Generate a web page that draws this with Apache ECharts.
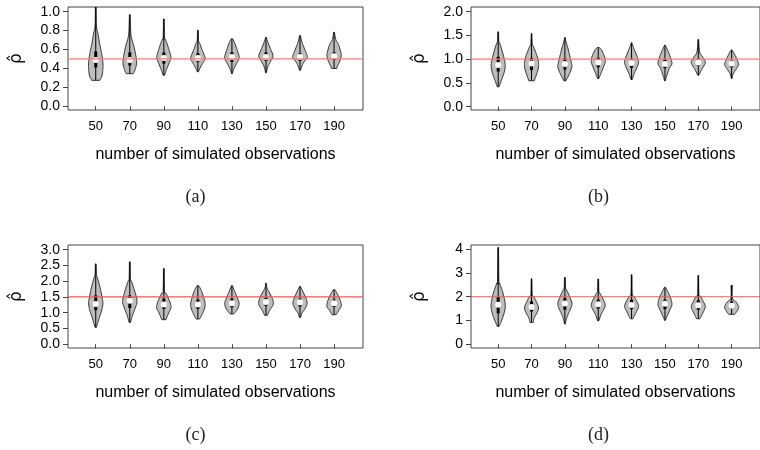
<!DOCTYPE html>
<html>
<head>
<meta charset="UTF-8">
<title>violin plots</title>
<script src="https://cdn.jsdelivr.net/npm/echarts@6/dist/echarts.min.js"></script>
<style>html,body{margin:0;background:#fff;}</style>
</head>
<body>
<div id="main" style="width:760px;height:450px;"></div>
<script type="text/javascript">
// categories (number of simulated observations)
var xCats = [50, 70, 90, 110, 130, 150, 170, 190];

// y tick labels per panel
var yTicksA = [0, 0.2, 0.4, 0.6, 0.8, 1.0];
var yTicksB = [0, 0.5, 1.0, 1.5, 2.0];
var yTicksC = [0, 0.5, 1.0, 1.5, 2.0, 2.5, 3.0];
var yTicksD = [0, 1, 2, 3, 4];

// true value (red line) per panel
var trueA = 0.5, trueB = 1.0, trueC = 1.5, trueD = 2.0;

// violin outlines: [value, relative half width], top to bottom
var violinA = [
  [[1.05,0.05],[0.846,0.1],[0.776,0.29],[0.671,0.52],[0.565,0.81],[0.46,1],[0.39,1],[0.32,0.86],[0.274,0.57]],
  [[0.969,0.05],[0.846,0.1],[0.741,0.19],[0.635,0.57],[0.53,0.86],[0.46,0.95],[0.39,0.76],[0.344,0.48]],
  [[0.923,0.05],[0.723,0.1],[0.706,0.24],[0.635,0.57],[0.565,0.86],[0.513,1],[0.46,0.76],[0.39,0.38],[0.327,0.1]],
  [[0.804,0.05],[0.688,0.1],[0.671,0.24],[0.6,0.57],[0.53,0.95],[0.495,1],[0.46,0.71],[0.407,0.33],[0.365,0.1]],
  [[0.713,0.1],[0.671,0.38],[0.6,0.71],[0.53,1],[0.495,0.95],[0.442,0.57],[0.39,0.24],[0.344,0.05]],
  [[0.73,0.05],[0.671,0.29],[0.6,0.67],[0.53,1],[0.478,0.67],[0.425,0.29],[0.355,0.05]],
  [[0.748,0.05],[0.688,0.24],[0.618,0.57],[0.548,0.95],[0.513,1],[0.46,0.48],[0.407,0.19],[0.379,0.05]],
  [[0.783,0.05],[0.706,0.24],[0.653,0.62],[0.583,0.9],[0.537,1],[0.478,0.81],[0.425,0.48],[0.40,0.38]]
];
var violinB = [
  [[1.577,0.05],[1.366,0.1],[1.331,0.24],[1.12,0.67],[0.945,0.95],[0.84,1],[0.699,0.81],[0.524,0.38],[0.419,0.14]],
  [[1.541,0.05],[1.331,0.1],[1.261,0.29],[1.12,0.67],[0.98,0.95],[0.84,1],[0.699,0.76],[0.545,0.38]],
  [[1.457,0.05],[1.401,0.1],[1.261,0.38],[1.12,0.62],[0.945,0.9],[0.84,1],[0.699,0.67],[0.545,0.14]],
  [[1.247,0.14],[1.191,0.48],[1.05,0.9],[0.945,1],[0.84,0.76],[0.699,0.38],[0.594,0.1]],
  [[1.345,0.05],[1.226,0.33],[1.085,0.71],[0.945,1],[0.84,0.81],[0.699,0.38],[0.573,0.1]],
  [[1.296,0.05],[1.191,0.38],[1.05,0.76],[0.91,1],[0.805,0.62],[0.664,0.29],[0.545,0.05]],
  [[1.415,0.05],[1.155,0.19],[1.05,0.62],[0.945,1],[0.875,0.86],[0.769,0.43],[0.664,0.1]],
  [[1.191,0.1],[1.085,0.48],[0.98,0.81],[0.889,1],[0.805,0.71],[0.699,0.24],[0.594,0.05]]
];
var violinC = [
  [[2.55,0.05],[2.211,0.1],[2.105,0.24],[1.786,0.62],[1.468,0.9],[1.309,1],[1.097,0.86],[0.832,0.48],[0.535,0.1]],
  [[2.614,0.05],[2.051,0.1],[1.998,0.24],[1.733,0.62],[1.468,0.95],[1.309,1],[1.15,0.76],[0.885,0.33],[0.694,0.1]],
  [[2.401,0.05],[1.68,0.1],[1.627,0.29],[1.468,0.62],[1.309,0.9],[1.15,1],[0.991,0.67],[0.779,0.29]],
  [[1.861,0.1],[1.733,0.43],[1.521,0.76],[1.309,1],[1.15,0.95],[0.938,0.57],[0.8,0.24]],
  [[1.861,0.05],[1.68,0.38],[1.468,0.76],[1.309,1],[1.15,0.86],[0.991,0.38],[0.959,0.19]],
  [[1.935,0.05],[1.786,0.14],[1.627,0.52],[1.415,0.95],[1.256,1],[1.097,0.57],[0.917,0.19]],
  [[1.839,0.05],[1.659,0.43],[1.468,0.81],[1.309,1],[1.15,0.76],[0.991,0.29],[0.853,0.1]],
  [[1.733,0.1],[1.574,0.52],[1.362,0.9],[1.203,1],[1.065,0.62],[0.938,0.29]]
];
var violinD = [
  [[4.076,0.05],[2.645,0.1],[2.575,0.19],[2.224,0.62],[1.803,0.95],[1.522,1],[1.171,0.71],[0.89,0.33],[0.75,0.14]],
  [[2.757,0.05],[2.083,0.1],[2.013,0.29],[1.803,0.67],[1.522,1],[1.311,0.76],[1.101,0.38],[0.918,0.24]],
  [[2.813,0.05],[2.364,0.1],[2.294,0.24],[2.013,0.67],[1.733,1],[1.522,0.86],[1.241,0.43],[1.031,0.19],[0.848,0.05]],
  [[2.743,0.05],[2.224,0.1],[2.154,0.24],[1.943,0.62],[1.662,1],[1.452,0.76],[1.241,0.38],[0.989,0.1]],
  [[2.925,0.05],[2.083,0.1],[2.013,0.33],[1.803,0.76],[1.592,1],[1.382,0.71],[1.129,0.29],[1.073,0.19]],
  [[2.392,0.1],[2.224,0.38],[1.943,0.81],[1.662,1],[1.452,0.71],[1.171,0.29],[1.003,0.05]],
  [[2.897,0.05],[2.083,0.1],[2.013,0.33],[1.803,0.71],[1.592,1],[1.382,0.76],[1.129,0.33],[1.073,0.24]],
  [[2.476,0.1],[1.943,0.1],[1.803,0.57],[1.634,0.95],[1.522,1],[1.353,0.67],[1.26,0.43]]
];

// inner box: [q1, median, q3]
var boxA = [[0.41,0.49,0.58],[0.43,0.49,0.57],[0.45,0.51,0.57],[0.47,0.51,0.56],[0.47,0.52,0.57],[0.48,0.52,0.57],[0.48,0.52,0.56],[0.49,0.53,0.57]];
var boxB = [[0.74,0.88,1.05],[0.77,0.91,1.03],[0.78,0.90,1.02],[0.83,0.93,1.03],[0.82,0.92,1.01],[0.81,0.90,1.00],[0.86,0.93,1.01],[0.83,0.91,0.98]];
var boxC = [[1.08,1.28,1.55],[1.15,1.38,1.55],[1.12,1.26,1.45],[1.12,1.26,1.42],[1.17,1.30,1.45],[1.22,1.34,1.47],[1.20,1.33,1.45],[1.18,1.30,1.42]];
var boxD = [[1.30,1.66,1.98],[1.38,1.57,1.80],[1.45,1.72,1.95],[1.50,1.68,1.88],[1.48,1.65,1.88],[1.48,1.70,1.88],[1.45,1.64,1.85],[1.50,1.62,1.80]];

var HALF = 4.2; // max half width of a violin in x units
var FONT = 'Liberation Sans';
var X_MIN = 33.7, X_MAX = 207;

// catmull-rom through pixel points, just for a smooth outline
function smoothPts(pts) {
  var out = [];
  for (var i = 0; i < pts.length - 1; i++) {
    var p0 = pts[Math.max(i - 1, 0)], p1 = pts[i], p2 = pts[i + 1], p3 = pts[Math.min(i + 2, pts.length - 1)];
    for (var k = 0; k < 6; k++) {
      var t = k / 6, t2 = t * t, t3 = t2 * t;
      out.push([
        0.5 * (2 * p1[0] + (-p0[0] + p2[0]) * t + (2 * p0[0] - 5 * p1[0] + 4 * p2[0] - p3[0]) * t2 + (-p0[0] + 3 * p1[0] - 3 * p2[0] + p3[0]) * t3),
        0.5 * (2 * p1[1] + (-p0[1] + p2[1]) * t + (2 * p0[1] - 5 * p1[1] + 4 * p2[1] - p3[1]) * t2 + (-p0[1] + 3 * p1[1] - 3 * p2[1] + p3[1]) * t3)
      ]);
    }
  }
  out.push(pts[pts.length - 1]);
  return out;
}

function violinSeries(k, violins, boxes) {
  return {
    type: 'custom',
    xAxisIndex: k,
    yAxisIndex: k,
    clip: true,
    z: 2,
    data: xCats.map(function (x, i) { return [x, boxes[i][1]]; }),
    renderItem: function (params, api) {
      var i = params.dataIndex;
      var x = api.value(0);
      var prof = violins[i];
      var right = prof.map(function (p) { return api.coord([x + p[1] * HALF, p[0]]); });
      var left = prof.map(function (p) { return api.coord([x - p[1] * HALF, p[0]]); });
      var pts = smoothPts(right).concat(smoothPts(left).reverse());
      var top = api.coord([x, prof[0][0]]);
      var bot = api.coord([x, prof[prof.length - 1][0]]);
      var q1 = api.coord([x, boxes[i][0]]);
      var md = api.coord([x, boxes[i][1]]);
      var q3 = api.coord([x, boxes[i][2]]);
      return {
        type: 'group',
        children: [
          { type: 'polygon', shape: { points: pts }, style: { fill: '#bdbdbd', stroke: '#222', lineWidth: 0.9 } },
          { type: 'line', shape: { x1: top[0], y1: top[1], x2: bot[0], y2: bot[1] }, style: { stroke: '#000', lineWidth: 1 } },
          { type: 'rect', shape: { x: q3[0] - 1.5, y: q3[1], width: 3, height: q1[1] - q3[1] }, style: { fill: '#000' } },
          { type: 'circle', shape: { cx: md[0], cy: md[1], r: 3 }, style: { fill: '#fff' } }
        ]
      };
    }
  };
}

// red reference line at the true value, across the whole panel
function trueLine(k, val, color) {
  return {
    type: 'line',
    xAxisIndex: k,
    yAxisIndex: k,
    z: 5,
    symbol: 'none',
    silent: true,
    lineStyle: { color: color, width: 1.2 },
    data: [[X_MIN, val], [X_MAX, val]]
  };
}

var grids = [
  { left: 68, top: 7, width: 295, height: 103 },
  { left: 471, top: 7, width: 295, height: 103 },
  { left: 68, top: 245, width: 295, height: 103 },
  { left: 471, top: 245, width: 295, height: 103 }
];
var yRanges = [[-0.04, 1.05], [-0.07, 2.1], [-0.12, 3.15], [-0.16, 4.18]];
var yTicks = [yTicksA, yTicksB, yTicksC, yTicksD];

var myChart = echarts.init(document.getElementById('main'));

// rotated rho-hat label left of each panel, plus (a)-(d) captions
var graphics = [];
grids.forEach(function (g, k) {
  graphics.push({
    type: 'text', x: g.left - 51, y: g.top + g.height / 2, rotation: Math.PI / 2,
    style: { text: 'ρ\u0302', font: '17px "DejaVu Sans"', fill: '#111', align: 'center', verticalAlign: 'middle' }
  });
  graphics.push({
    type: 'text', x: g.left + g.width / 2 - 20, y: g.top + 190,
    style: { text: '(' + 'abcd'[k] + ')', font: '18px "Liberation Serif"', fill: '#222', align: 'center', verticalAlign: 'middle' }
  });
});

var option = {
  backgroundColor: '#fff',
  animation: false,
  grid: grids.map(function (g) {
    return { left: g.left, top: g.top, width: g.width, height: g.height, show: true, borderColor: '#444', borderWidth: 1, backgroundColor: 'transparent' };
  }),
  xAxis: grids.map(function (g, k) {
    return {
      type: 'value', gridIndex: k, min: X_MIN, max: X_MAX,
      axisLine: { show: false },
      splitLine: { show: false },
      axisTick: { show: true, customValues: xCats, length: 4, lineStyle: { color: '#444' } },
      axisLabel: { customValues: xCats, margin: 10, color: '#000', fontFamily: FONT, fontSize: 13 },
      name: 'number of simulated observations',
      nameLocation: 'middle', nameGap: 37,
      nameTextStyle: { color: '#000', fontFamily: FONT, fontSize: 16 }
    };
  }),
  yAxis: grids.map(function (g, k) {
    return {
      type: 'value', gridIndex: k, min: yRanges[k][0], max: yRanges[k][1],
      axisLine: { show: false },
      splitLine: { show: false },
      axisTick: { show: true, customValues: yTicks[k], length: 5, lineStyle: { color: '#444' } },
      axisLabel: {
        customValues: yTicks[k], margin: 8, color: '#000', fontFamily: FONT, fontSize: 14,
        formatter: function (v) { return k === 3 ? String(Math.round(v)) : v.toFixed(1); }
      }
    };
  }),
  graphic: graphics,
  series: [
    violinSeries(0, violinA, boxA),
    violinSeries(1, violinB, boxB),
    violinSeries(2, violinC, boxC),
    violinSeries(3, violinD, boxD),
    trueLine(0, trueA, '#ff7878'),
    trueLine(1, trueB, '#ff7878'),
    trueLine(2, trueC, '#ff5050'),
    trueLine(3, trueD, '#ff5050')
  ]
};
myChart.setOption(option);
</script>
</body>
</html>
